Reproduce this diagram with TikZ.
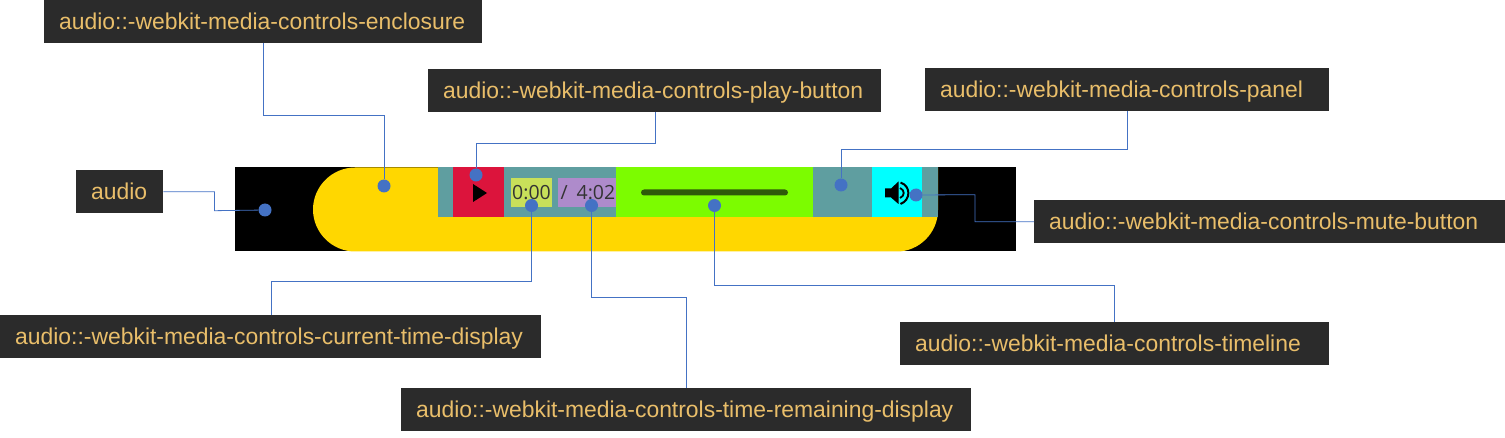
\documentclass[tikz,border=0pt]{standalone}
\usepackage{fontspec}
\setmainfont{Liberation Sans}
\newfontfamily\timefont{Open Sans}
\definecolor{lblbg}{HTML}{2B2B2B}
\definecolor{lbltx}{HTML}{E9BE6A}
\definecolor{dotc}{HTML}{4472C4}
\definecolor{panelc}{HTML}{5F9EA0}
\definecolor{redc}{HTML}{DC143C}
\definecolor{greenc}{HTML}{7CFC00}
\definecolor{cyanc}{HTML}{00FFFF}
\definecolor{goldc}{HTML}{FFD700}
\definecolor{curc}{HTML}{C8E05A}
\definecolor{remc}{HTML}{AE8BCB}
\definecolor{trackc}{HTML}{2E5A0A}
\definecolor{timetx}{HTML}{333333}
\tikzset{
 lbl/.style={fill=lblbg,text=lbltx,font=\fontsize{22.9}{26}\selectfont,anchor=north west,inner xsep=15pt,inner ysep=0pt,minimum height=43pt,align=left,text height=19pt,text depth=4pt,text width=#1-30pt},
 dotm/.style={circle,fill=dotc,draw=none,inner sep=0pt,minimum size=13pt},
 conn/.style={draw=dotc,line width=0.8pt},
 timetxt/.style={font=\timefont\fontsize{19.5}{22}\selectfont,text=timetx,inner sep=0pt}
}
\begin{document}
\begin{tikzpicture}[x=1pt,y=-1pt]
\useasboundingbox (0,0) rectangle (1505,438);
% player
\fill[black] (234.5,167.5) rectangle (1016,251.5);
\fill[goldc] (355,167.5) -- (938,167.5) -- (938,210) .. controls (938,233) and (919,251.5) .. (897,251.5) -- (355,251.5)
 .. controls (332,251.5) and (313,232.5) .. (313,209.5) .. controls (313,186.5) and (332,167.5) .. (355,167.5) -- cycle;
\fill[panelc] (438,167.5) rectangle (938,217);
\fill[redc] (453,167.5) rectangle (504,217);
\fill[greenc] (616,167.5) rectangle (813,217);
\fill[cyanc] (872,167.5) rectangle (922,217);
\fill[curc] (511,178) rectangle (552,207);
\fill[remc] (558,178) rectangle (616,207);
\fill[trackc,rounded corners=3pt] (641,189.5) rectangle (788,195.5);
\fill[black] (473,184) -- (487,193) -- (473,202) -- cycle;
\fill[black] (885,188.5) -- (891,188.5) -- (898.5,181.5) -- (898.5,204) -- (891,197.5) -- (885,197.5) -- cycle;
\draw[black,line width=2pt] (900.5,182.5) .. controls (911,186) and (911,200) .. (900.5,204);
\draw[black,line width=1.8pt] (900,188) .. controls (905,190) and (905,196) .. (900,198);
\node[timetxt,anchor=center] (tcur) at (531.5,193) {0:00};
\node[timetxt,anchor=east] (trem) at (615.5,193) {/\hspace{9pt}4:02};
% labels
\node[lbl=438pt] (lenc) at (44,0) {audio::-webkit-media-controls-enclosure};
\node[lbl=453pt] (lplay) at (428,69) {audio::-webkit-media-controls-play-button};
\node[lbl=404pt] (lpanel) at (925,68) {audio::-webkit-media-controls-panel};
\node[lbl=87pt] (laudio) at (76,170) {audio};
\node[lbl=471pt] (lmute) at (1034,200) {audio::-webkit-media-controls-mute-button};
\node[lbl=541pt] (lcur) at (0,315) {audio::-webkit-media-controls-current-time-display};
\node[lbl=570pt] (lrem) at (401,388) {audio::-webkit-media-controls-time-remaining-display};
\node[lbl=429pt] (ltime) at (900,322) {audio::-webkit-media-controls-timeline};
% dots
\node[dotm] (denc) at (384,186) {};
\node[dotm] (dplay) at (476,175) {};
\node[dotm] (dpanel) at (841,185) {};
\node[dotm] (daudio) at (265,210) {};
\node[dotm] (dmute) at (916,195) {};
\node[dotm] (dcur) at (531.5,205.5) {};
\node[dotm] (drem) at (591.5,205.5) {};
\node[dotm] (dtime) at (714.5,205.5) {};
% connectors
\draw[conn] ([xshift=219pt]lenc.south west) -- ++(0,72) -| (denc);
\draw[conn] ([xshift=227pt]lplay.south west) -- ++(0,31) -| (dplay);
\draw[conn] ([xshift=202pt]lpanel.south west) -- ++(0,38) -| (dpanel);
\draw[conn] (laudio.east) -- ++(51,0) -- ++(0,19) -- (daudio);
\draw[conn] (lmute.west) -- ++(-59,0) -- ++(0,-27) -- (dmute);
\draw[conn] ([xshift=271pt]lcur.north west) -- ++(0,-34) -| (dcur);
\draw[conn] ([xshift=285pt]lrem.north west) -- ++(0,-91) -| (drem);
\draw[conn] ([xshift=214pt]ltime.north west) -- ++(0,-37) -| (dtime);
\end{tikzpicture}
\end{document}
